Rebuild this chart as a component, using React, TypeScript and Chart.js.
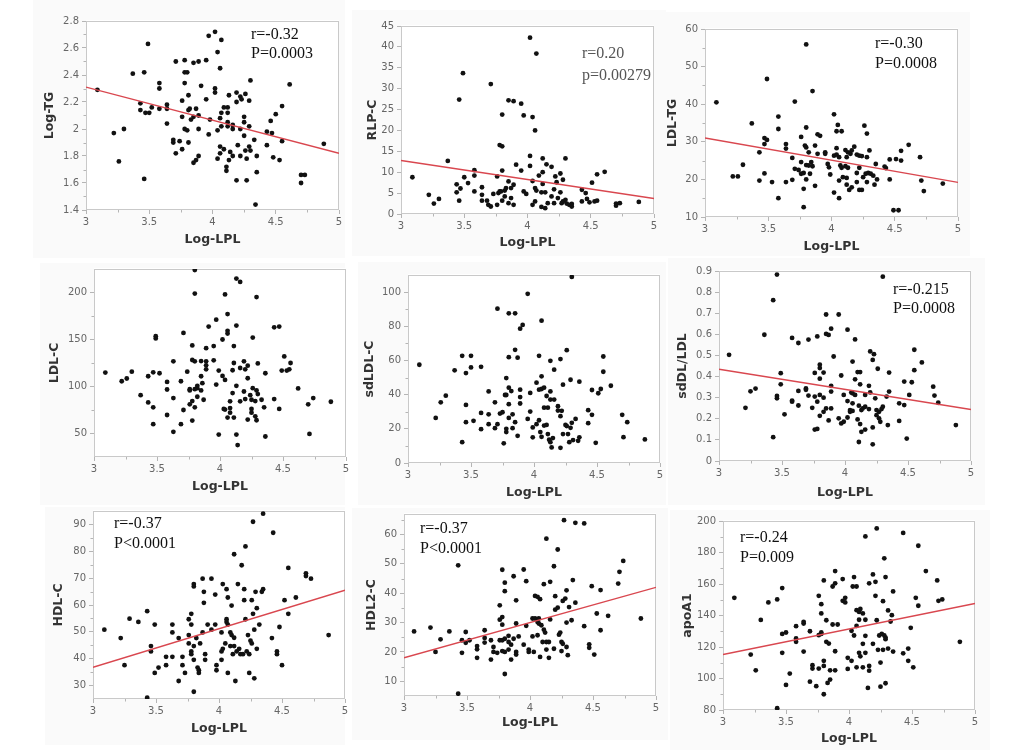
import React, { useEffect, useRef } from "react";
import { Chart, registerables } from "chart.js";

Chart.register(...registerables);

type Pt = [number, number];

// ---------------- data ----------------
const xTicks = [3, 3.5, 4, 4.5, 5];
const xMinor = [3.25, 3.75, 4.25, 4.75];
const xTitle = "Log-LPL";

const logTG: Pt[] = [
  [3.09, 2.29], [3.22, 1.97], [3.26, 1.76], [3.3, 2.0], [3.37, 2.41], [3.43, 2.19], [3.43, 2.14], [3.46, 2.42],
  [3.46, 1.63], [3.47, 2.12], [3.49, 2.63], [3.5, 2.12], [3.52, 2.16], [3.58, 2.34], [3.58, 2.3], [3.58, 2.15],
  [3.64, 2.18], [3.64, 2.15], [3.64, 2.04], [3.69, 1.92], [3.69, 1.9], [3.71, 2.5], [3.71, 1.82], [3.74, 1.91],
  [3.76, 2.21], [3.76, 2.09], [3.76, 1.85], [3.78, 2.51], [3.78, 2.42], [3.78, 2.34], [3.78, 2.0], [3.8, 2.42],
  [3.8, 1.99], [3.81, 2.25], [3.81, 2.14], [3.81, 1.9], [3.82, 2.15], [3.83, 2.07], [3.85, 2.49], [3.85, 1.75],
  [3.85, 2.09], [3.87, 1.77], [3.87, 2.15], [3.89, 2.5], [3.89, 2.1], [3.89, 2.0], [3.89, 1.8], [3.91, 2.32],
  [3.95, 2.51], [3.95, 2.22], [3.97, 2.69], [3.97, 1.96], [3.98, 2.07], [4.02, 2.72], [4.02, 2.3], [4.02, 2.27],
  [4.04, 2.57], [4.04, 1.99], [4.04, 1.78], [4.06, 2.45], [4.06, 2.08], [4.06, 1.87], [4.06, 1.82], [4.07, 2.66],
  [4.07, 2.12], [4.07, 2.02], [4.09, 2.16], [4.09, 1.85], [4.11, 1.72], [4.11, 1.69], [4.12, 2.16], [4.12, 2.12],
  [4.12, 2.05], [4.12, 2.02], [4.13, 2.25], [4.13, 1.77], [4.14, 1.83], [4.16, 2.03], [4.16, 2.0], [4.16, 1.8],
  [4.19, 2.27], [4.19, 1.62], [4.19, 2.2], [4.2, 1.88], [4.22, 2.24], [4.22, 2.0], [4.22, 1.8], [4.23, 2.22],
  [4.25, 2.09], [4.25, 2.05], [4.25, 1.95], [4.26, 2.26], [4.26, 1.84], [4.27, 1.78], [4.27, 1.62], [4.29, 2.21],
  [4.29, 2.02], [4.29, 1.87], [4.3, 2.36], [4.3, 1.84], [4.33, 1.92], [4.34, 1.44], [4.35, 1.8], [4.35, 1.68],
  [4.43, 1.98], [4.43, 1.88], [4.46, 2.06], [4.47, 1.97], [4.48, 1.79], [4.5, 2.11], [4.53, 1.77], [4.55, 2.17],
  [4.55, 1.91], [4.61, 2.33], [4.7, 1.66], [4.7, 1.6], [4.73, 1.66], [4.88, 1.89],
];
const logTGFit: Pt = [2.31, 1.82];
const logTGTicks = [1.4, 1.6, 1.8, 2, 2.2, 2.4, 2.6, 2.8];
const logTGMinor = [1.5, 1.7, 1.9, 2.1, 2.3, 2.5, 2.7];

const rlpC: Pt[] = [
  [3.09, 8.8], [3.22, 4.6], [3.26, 2.5], [3.3, 3.6], [3.37, 12.7], [3.44, 7.1], [3.44, 5.2], [3.46, 27.4],
  [3.47, 6.1], [3.46, 3.2], [3.49, 33.7], [3.5, 8.8], [3.53, 7.4], [3.58, 10.5], [3.58, 9.2], [3.58, 5.4],
  [3.64, 6.4], [3.64, 4.6], [3.64, 3.2], [3.68, 3.2], [3.69, 2.2], [3.71, 1.8], [3.71, 31.1], [3.73, 4.8],
  [3.76, 2.2], [3.76, 9.0], [3.77, 5.0], [3.78, 16.5], [3.78, 5.4], [3.79, 5.4], [3.8, 16.2], [3.8, 23.8],
  [3.8, 10.4], [3.8, 3.2], [3.82, 4.2], [3.82, 5.6], [3.83, 6.2], [3.85, 27.2], [3.85, 7.8], [3.85, 2.6],
  [3.87, 3.8], [3.87, 6.2], [3.89, 27.0], [3.89, 7.0], [3.89, 2.2], [3.91, 11.8], [3.95, 26.4], [3.95, 10.4],
  [3.97, 23.6], [3.97, 5.4], [3.99, 4.8], [4.02, 42.2], [4.02, 13.9], [4.02, 11.5], [4.04, 23.2], [4.04, 7.9],
  [4.04, 2.2], [4.06, 20.0], [4.06, 6.2], [4.06, 3.0], [4.07, 38.4], [4.07, 5.6], [4.09, 9.2], [4.11, 5.2],
  [4.11, 1.7], [4.12, 13.3], [4.12, 10.0], [4.12, 7.2], [4.14, 1.4], [4.14, 5.2], [4.15, 11.9], [4.16, 2.6],
  [4.19, 11.3], [4.19, 4.2], [4.21, 5.9], [4.21, 2.6], [4.22, 9.0], [4.23, 7.6], [4.24, 3.8], [4.26, 5.2],
  [4.26, 9.7], [4.27, 2.6], [4.28, 8.2], [4.28, 3.0], [4.3, 13.3], [4.3, 3.4], [4.31, 2.5], [4.33, 2.2],
  [4.35, 2.4], [4.35, 1.8], [4.43, 5.8], [4.43, 3.0], [4.46, 5.0], [4.47, 3.6], [4.49, 2.8], [4.51, 7.5],
  [4.53, 3.0], [4.55, 9.5], [4.55, 3.2], [4.61, 10.1], [4.7, 2.5], [4.7, 2.0], [4.73, 2.6], [4.88, 2.9],
];
const rlpCFit: Pt = [12.8, 3.7];
const rlpCTicks = [0, 5, 10, 15, 20, 25, 30, 35, 40, 45];
const rlpCMinor: number[] = [];

const ldlTG: Pt[] = [
  [3.09, 40.5], [3.22, 20.8], [3.26, 20.8], [3.3, 23.9], [3.37, 34.9], [3.43, 27.2], [3.43, 19.7], [3.47, 31.0],
  [3.47, 29.4], [3.47, 21.6], [3.49, 46.7], [3.49, 30.5], [3.53, 19.3], [3.58, 36.7], [3.58, 33.4], [3.58, 15.0],
  [3.64, 29.4], [3.64, 28.2], [3.64, 19.3], [3.69, 25.7], [3.69, 19.9], [3.71, 40.7], [3.71, 22.8], [3.74, 22.5],
  [3.76, 31.3], [3.76, 24.6], [3.76, 21.5], [3.78, 12.6], [3.78, 21.7], [3.78, 17.5], [3.79, 29.0], [3.8, 55.9],
  [3.8, 33.8], [3.8, 28.5], [3.8, 23.8], [3.8, 20.0], [3.82, 27.2], [3.82, 23.7], [3.83, 21.5], [3.84, 24.6],
  [3.85, 43.5], [3.85, 23.5], [3.87, 29.0], [3.87, 18.3], [3.89, 32.0], [3.89, 26.8], [3.91, 31.6], [3.95, 27.2],
  [3.95, 26.8], [3.97, 24.1], [3.98, 23.2], [3.99, 21.3], [4.02, 37.3], [4.02, 26.3], [4.02, 16.5], [4.04, 32.8],
  [4.04, 28.3], [4.04, 26.6], [4.05, 34.5], [4.06, 15.0], [4.06, 19.7], [4.06, 25.9], [4.08, 32.8], [4.07, 23.7],
  [4.08, 23.1], [4.09, 20.6], [4.11, 27.8], [4.11, 23.5], [4.12, 25.9], [4.12, 20.4], [4.12, 18.6], [4.13, 23.1],
  [4.13, 27.2], [4.14, 17.2], [4.15, 26.8], [4.16, 17.9], [4.16, 27.7], [4.18, 28.7], [4.2, 26.6], [4.2, 21.7],
  [4.2, 19.3], [4.22, 17.2], [4.22, 26.3], [4.22, 23.1], [4.24, 17.2], [4.24, 26.2], [4.25, 20.6], [4.26, 34.3],
  [4.27, 21.5], [4.28, 19.3], [4.28, 32.2], [4.28, 25.9], [4.29, 21.7], [4.3, 27.7], [4.31, 21.5], [4.33, 21.0],
  [4.34, 18.6], [4.35, 24.1], [4.36, 20.0], [4.42, 23.4], [4.43, 23.0], [4.46, 20.0], [4.46, 25.3], [4.49, 11.8],
  [4.51, 25.4], [4.53, 11.8], [4.55, 27.6], [4.55, 25.0], [4.61, 29.2], [4.7, 25.9], [4.71, 19.7], [4.73, 16.9],
  [4.88, 18.9],
];
const ldlTGFit: Pt = [31.0, 19.2];
const ldlTGTicks = [10, 20, 30, 40, 50, 60];
const ldlTGMinor = [15, 25, 35, 45, 55];

const ldlC: Pt[] = [
  [3.09, 114.8], [3.22, 105.6], [3.26, 108.5], [3.3, 115.8], [3.37, 90.8], [3.43, 110.9], [3.43, 83.1], [3.47, 115.1],
  [3.47, 77.8], [3.47, 59.9], [3.49, 153.5], [3.49, 151.1], [3.52, 114.1], [3.58, 104.9], [3.58, 96.8], [3.58, 69.7],
  [3.63, 126.8], [3.63, 87.7], [3.63, 51.8], [3.69, 105.6], [3.69, 59.9], [3.71, 157.0], [3.71, 75.0], [3.74, 115.8],
  [3.76, 97.2], [3.76, 95.8], [3.76, 81.0], [3.78, 143.7], [3.78, 128.2], [3.78, 84.5], [3.78, 63.7], [3.8, 223.9],
  [3.8, 198.9], [3.8, 126.8], [3.8, 97.2], [3.8, 77.8], [3.82, 98.2], [3.82, 100.7], [3.82, 89.1], [3.85, 127.1],
  [3.85, 110.9], [3.85, 95.8], [3.86, 103.5], [3.87, 85.9], [3.89, 140.8], [3.89, 126.8], [3.89, 122.5], [3.89, 118.3],
  [3.91, 163.7], [3.95, 143.0], [3.95, 127.8], [3.97, 171.1], [3.97, 102.1], [3.99, 116.9], [3.99, 48.9], [4.02, 150.0],
  [4.02, 111.3], [4.03, 76.1], [4.04, 197.9], [4.04, 107.0], [4.04, 75.4], [4.06, 177.1], [4.06, 159.2], [4.06, 156.3],
  [4.06, 66.9], [4.08, 84.2], [4.08, 77.1], [4.08, 72.2], [4.1, 117.3], [4.1, 93.0], [4.11, 143.0], [4.11, 66.9],
  [4.11, 125.0], [4.13, 214.8], [4.13, 164.8], [4.13, 100.7], [4.13, 48.9], [4.14, 37.7], [4.16, 211.3], [4.16, 119.7],
  [4.16, 84.2], [4.19, 126.8], [4.19, 94.7], [4.2, 118.3], [4.2, 86.6], [4.22, 122.2], [4.22, 108.8], [4.22, 64.8],
  [4.24, 90.8], [4.25, 76.1], [4.25, 72.2], [4.25, 85.9], [4.26, 152.1], [4.26, 98.2], [4.28, 84.5], [4.28, 68.3],
  [4.29, 195.1], [4.29, 95.8], [4.29, 64.1], [4.3, 124.6], [4.3, 91.9], [4.33, 85.9], [4.35, 77.8], [4.36, 114.1],
  [4.36, 46.8], [4.43, 86.6], [4.43, 163.0], [4.47, 163.7], [4.47, 76.1], [4.49, 116.9], [4.51, 132.0], [4.53, 116.9],
  [4.55, 118.3], [4.56, 125.0], [4.62, 97.9], [4.7, 81.0], [4.71, 49.6], [4.74, 87.7], [4.88, 83.8],
];
const ldlCTicks = [50, 100, 150, 200];
const ldlCMinor = [75, 125, 175];

const sdLDLC: Pt[] = [
  [3.09, 57.5], [3.22, 26.4], [3.26, 35.5], [3.3, 39.4], [3.37, 54.2], [3.43, 62.7], [3.43, 12.2], [3.46, 52.6],
  [3.46, 34.0], [3.46, 23.9], [3.5, 62.7], [3.5, 55.9], [3.52, 24.7], [3.58, 56.3], [3.58, 29.3], [3.58, 19.8],
  [3.64, 41.9], [3.64, 28.5], [3.64, 22.7], [3.69, 35.5], [3.69, 20.4], [3.71, 90.3], [3.71, 22.7], [3.73, 28.9],
  [3.75, 29.7], [3.76, 11.5], [3.77, 39.8], [3.78, 49.7], [3.78, 39.8], [3.78, 20.0], [3.78, 18.1], [3.8, 87.6],
  [3.8, 61.9], [3.8, 44.1], [3.8, 34.4], [3.8, 26.4], [3.82, 42.1], [3.83, 28.5], [3.83, 20.4], [3.85, 87.6],
  [3.85, 66.2], [3.85, 23.9], [3.87, 61.6], [3.87, 15.9], [3.89, 78.6], [3.89, 42.9], [3.89, 38.6], [3.89, 34.8],
  [3.91, 80.8], [3.95, 99.0], [3.95, 25.8], [3.97, 41.0], [3.97, 30.1], [3.99, 20.8], [3.99, 15.0], [4.02, 47.0],
  [4.02, 22.7], [4.04, 62.7], [4.04, 42.9], [4.04, 25.0], [4.05, 18.1], [4.06, 50.7], [4.06, 83.3], [4.06, 43.3],
  [4.06, 15.3], [4.08, 44.1], [4.08, 32.4], [4.08, 21.9], [4.1, 39.2], [4.1, 22.3], [4.11, 32.4], [4.11, 16.9],
  [4.12, 13.6], [4.13, 59.8], [4.13, 41.9], [4.13, 12.2], [4.13, 37.1], [4.14, 9.1], [4.15, 14.6], [4.16, 54.6],
  [4.16, 37.1], [4.19, 33.2], [4.19, 30.7], [4.21, 60.8], [4.21, 27.4], [4.21, 8.9], [4.22, 30.5], [4.23, 45.8],
  [4.23, 16.9], [4.25, 22.3], [4.26, 21.6], [4.26, 66.0], [4.27, 16.9], [4.28, 12.2], [4.29, 20.6], [4.29, 48.7],
  [4.3, 23.5], [4.3, 108.9], [4.31, 13.4], [4.33, 25.8], [4.35, 13.0], [4.36, 15.0], [4.36, 47.6], [4.43, 30.9],
  [4.43, 23.3], [4.46, 42.7], [4.46, 28.2], [4.49, 11.8], [4.51, 40.8], [4.53, 43.3], [4.55, 62.3], [4.55, 53.4],
  [4.61, 45.2], [4.7, 28.2], [4.71, 15.1], [4.74, 23.9], [4.88, 13.8],
];
const sdLDLCTicks = [0, 20, 40, 60, 80, 100];
const sdLDLCMinor = [10, 30, 50, 70, 90];

const sdRatio: Pt[] = [
  [3.08, 0.503], [3.21, 0.252], [3.25, 0.33], [3.29, 0.343], [3.36, 0.598], [3.43, 0.762], [3.43, 0.113], [3.46, 0.883],
  [3.46, 0.308], [3.46, 0.297], [3.49, 0.416], [3.49, 0.363], [3.52, 0.221], [3.58, 0.583], [3.58, 0.286], [3.58, 0.281],
  [3.63, 0.559], [3.63, 0.332], [3.63, 0.263], [3.69, 0.344], [3.69, 0.337], [3.71, 0.575], [3.71, 0.31], [3.74, 0.252],
  [3.76, 0.417], [3.76, 0.305], [3.76, 0.149], [3.78, 0.59], [3.78, 0.281], [3.78, 0.152], [3.8, 0.456], [3.8, 0.44],
  [3.8, 0.39], [3.8, 0.313], [3.8, 0.214], [3.83, 0.419], [3.83, 0.3], [3.83, 0.233], [3.85, 0.694], [3.85, 0.602],
  [3.85, 0.249], [3.87, 0.597], [3.87, 0.192], [3.89, 0.627], [3.89, 0.356], [3.89, 0.329], [3.89, 0.249], [3.91, 0.495],
  [3.95, 0.694], [3.95, 0.202], [3.97, 0.405], [3.97, 0.178], [3.99, 0.186], [3.99, 0.313], [4.02, 0.622], [4.02, 0.284],
  [4.02, 0.206], [4.04, 0.241], [4.04, 0.233], [4.05, 0.324], [4.06, 0.471], [4.06, 0.321], [4.06, 0.273], [4.06, 0.237],
  [4.08, 0.576], [4.08, 0.387], [4.08, 0.313], [4.1, 0.421], [4.1, 0.197], [4.11, 0.09], [4.11, 0.262], [4.12, 0.421],
  [4.12, 0.363], [4.12, 0.175], [4.13, 0.138], [4.13, 0.241], [4.14, 0.249], [4.16, 0.313], [4.16, 0.257], [4.16, 0.149],
  [4.19, 0.356], [4.19, 0.246], [4.2, 0.519], [4.2, 0.325], [4.22, 0.479], [4.22, 0.159], [4.22, 0.079], [4.23, 0.506],
  [4.24, 0.297], [4.25, 0.241], [4.25, 0.217], [4.26, 0.437], [4.27, 0.202], [4.27, 0.233], [4.28, 0.186], [4.29, 0.246],
  [4.3, 0.257], [4.3, 0.873], [4.33, 0.305], [4.34, 0.17], [4.35, 0.329], [4.35, 0.419], [4.43, 0.273], [4.43, 0.19],
  [4.47, 0.376], [4.47, 0.265], [4.49, 0.106], [4.51, 0.313], [4.53, 0.373], [4.55, 0.527], [4.55, 0.43], [4.61, 0.467],
  [4.7, 0.352], [4.71, 0.31], [4.74, 0.276], [4.88, 0.17],
];
const sdRatioFit: Pt = [0.435, 0.244];
const sdRatioTicks = [0, 0.1, 0.2, 0.3, 0.4, 0.5, 0.6, 0.7, 0.8, 0.9];
const sdRatioMinor: number[] = [];

const hdlC: Pt[] = [
  [3.09, 50.8], [3.22, 47.7], [3.25, 37.6], [3.29, 54.9], [3.36, 53.7], [3.43, 57.7], [3.43, 25.5], [3.46, 44.7],
  [3.46, 42.7], [3.49, 52.7], [3.49, 34.7], [3.52, 36.7], [3.58, 40.7], [3.58, 37.6], [3.63, 52.7], [3.63, 49.8],
  [3.63, 40.7], [3.68, 47.7], [3.68, 31.7], [3.71, 40.7], [3.71, 37.6], [3.73, 34.7], [3.76, 54.7], [3.76, 48.8],
  [3.76, 45.7], [3.78, 56.7], [3.78, 52.7], [3.78, 42.7], [3.78, 41.7], [3.8, 67.8], [3.8, 66.9], [3.8, 44.7],
  [3.8, 39.6], [3.8, 27.7], [3.82, 47.7], [3.83, 36.7], [3.84, 35.7], [3.84, 34.7], [3.85, 45.7], [3.87, 49.8],
  [3.87, 69.8], [3.88, 64.9], [3.88, 60.8], [3.89, 41.7], [3.89, 39.6], [3.91, 52.7], [3.94, 69.8], [3.94, 50.8],
  [3.97, 63.9], [3.97, 52.7], [3.98, 37.6], [3.98, 35.7], [4.02, 49.8], [4.02, 42.7], [4.02, 39.6], [4.03, 67.8],
  [4.03, 43.7], [4.05, 45.7], [4.06, 54.7], [4.06, 53.7], [4.06, 65.9], [4.07, 62.8], [4.07, 52.7], [4.07, 34.7],
  [4.09, 49.8], [4.09, 44.7], [4.1, 48.8], [4.1, 59.8], [4.11, 41.7], [4.12, 47.8], [4.12, 44.7], [4.12, 78.9],
  [4.13, 31.7], [4.14, 42.7], [4.15, 67.8], [4.16, 43.7], [4.17, 41.7], [4.18, 74.8], [4.19, 41.7], [4.2, 65.9],
  [4.2, 61.8], [4.21, 81.8], [4.21, 54.7], [4.22, 42.7], [4.23, 48.8], [4.24, 41.7], [4.24, 34.7], [4.25, 46.7],
  [4.26, 45.7], [4.26, 61.8], [4.27, 91.0], [4.27, 56.7], [4.28, 32.7], [4.28, 50.8], [4.29, 64.9], [4.3, 58.8],
  [4.3, 43.7], [4.32, 52.7], [4.34, 64.9], [4.35, 65.9], [4.35, 94.0], [4.42, 47.7], [4.43, 86.9], [4.46, 42.7],
  [4.46, 41.7], [4.48, 51.8], [4.5, 37.6], [4.52, 61.8], [4.55, 73.8], [4.55, 56.7], [4.61, 62.8], [4.69, 71.8],
  [4.69, 70.8], [4.73, 69.8], [4.87, 48.8],
];
const hdlCFit: Pt = [36.8, 65.5];
const hdlCTicks = [30, 40, 50, 60, 70, 80, 90];
const hdlCMinor = [35, 45, 55, 65, 75, 85];

const hdl2C: Pt[] = [
  [3.08, 27.0], [3.21, 28.3], [3.25, 20.0], [3.29, 24.3], [3.36, 27.0], [3.43, 49.5], [3.43, 5.8], [3.46, 24.0],
  [3.46, 19.7], [3.49, 26.8], [3.49, 23.1], [3.52, 24.0], [3.58, 22.0], [3.58, 20.9], [3.58, 18.0], [3.64, 27.4],
  [3.64, 24.8], [3.64, 23.2], [3.69, 24.0], [3.69, 17.4], [3.71, 21.7], [3.71, 20.0], [3.74, 19.7], [3.76, 35.9],
  [3.76, 31.0], [3.76, 24.0], [3.78, 48.0], [3.78, 31.9], [3.78, 29.3], [3.78, 24.0], [3.78, 20.3], [3.8, 43.6],
  [3.8, 40.7], [3.8, 24.5], [3.8, 20.0], [3.8, 12.5], [3.83, 25.5], [3.83, 23.4], [3.83, 20.8], [3.85, 22.5],
  [3.85, 17.4], [3.87, 45.8], [3.87, 24.5], [3.89, 37.6], [3.89, 29.7], [3.89, 20.0], [3.89, 19.1], [3.91, 25.3],
  [3.95, 48.1], [3.95, 22.5], [3.97, 44.1], [3.97, 28.9], [3.99, 20.8], [3.99, 20.0], [4.02, 31.4], [4.02, 25.3],
  [4.03, 20.0], [4.04, 39.1], [4.04, 31.4], [4.06, 38.8], [4.06, 30.2], [4.06, 25.7], [4.07, 31.4], [4.07, 29.7],
  [4.08, 38.0], [4.08, 18.3], [4.09, 29.1], [4.1, 23.4], [4.11, 43.1], [4.11, 27.6], [4.12, 26.6], [4.13, 58.6],
  [4.13, 23.4], [4.13, 20.8], [4.15, 18.0], [4.15, 23.4], [4.16, 43.9], [4.16, 31.1], [4.19, 49.2], [4.19, 21.1],
  [4.2, 39.0], [4.2, 34.4], [4.22, 54.9], [4.22, 35.1], [4.23, 25.9], [4.24, 26.6], [4.25, 20.3], [4.25, 23.4],
  [4.26, 37.4], [4.26, 22.8], [4.27, 64.9], [4.28, 38.2], [4.29, 41.0], [4.29, 30.0], [4.29, 21.7], [4.3, 18.9],
  [4.31, 35.3], [4.33, 30.8], [4.34, 44.5], [4.36, 36.8], [4.36, 64.0], [4.43, 28.8], [4.43, 63.8], [4.47, 22.6],
  [4.47, 21.4], [4.49, 42.4], [4.51, 19.1], [4.53, 33.1], [4.56, 41.1], [4.56, 27.4], [4.62, 32.3], [4.7, 43.3],
  [4.71, 47.3], [4.74, 51.0], [4.88, 31.4],
];
const hdl2CFit: Pt = [18.0, 42.0];
const hdl2CTicks = [10, 20, 30, 40, 50, 60];
const hdl2CMinor = [15, 25, 35, 45, 55, 65];

const apoA1: Pt[] = [
  [3.09, 151.2], [3.22, 115.2], [3.26, 105.2], [3.3, 137.2], [3.36, 148.3], [3.43, 150.2], [3.43, 81.1], [3.47, 157.4],
  [3.47, 128.3], [3.47, 116.3], [3.5, 129.2], [3.5, 95.9], [3.53, 103.1], [3.58, 133.2], [3.58, 125.4], [3.58, 123.3],
  [3.64, 136.0], [3.64, 134.9], [3.64, 117.1], [3.69, 130.0], [3.69, 98.0], [3.71, 108.4], [3.71, 106.3], [3.74, 95.1],
  [3.76, 152.5], [3.76, 127.5], [3.76, 106.3], [3.78, 147.2], [3.78, 141.3], [3.78, 129.2], [3.78, 128.3], [3.8, 162.3],
  [3.8, 111.2], [3.8, 108.0], [3.8, 90.0], [3.82, 137.0], [3.82, 123.3], [3.83, 97.2], [3.84, 122.2], [3.85, 99.3],
  [3.85, 105.2], [3.87, 158.4], [3.87, 134.3], [3.89, 160.4], [3.89, 168.2], [3.89, 117.3], [3.89, 105.2], [3.91, 134.3],
  [3.95, 163.1], [3.95, 149.3], [3.97, 151.2], [3.97, 148.3], [3.99, 113.1], [3.99, 106.1], [4.02, 130.3], [4.02, 111.2],
  [4.03, 158.4], [4.04, 164.4], [4.04, 127.3], [4.06, 158.4], [4.06, 143.4], [4.06, 133.4], [4.06, 107.1], [4.08, 142.3],
  [4.08, 137.3], [4.08, 116.3], [4.09, 144.2], [4.09, 114.1], [4.11, 141.3], [4.11, 122.0], [4.11, 107.1], [4.13, 190.2],
  [4.13, 137.3], [4.13, 127.1], [4.13, 116.3], [4.15, 94.0], [4.16, 160.4], [4.16, 108.0], [4.16, 105.0], [4.19, 166.1],
  [4.19, 122.0], [4.21, 161.4], [4.21, 152.5], [4.22, 195.3], [4.22, 137.0], [4.23, 118.2], [4.24, 127.3], [4.25, 110.1],
  [4.25, 94.8], [4.26, 128.3], [4.27, 149.1], [4.27, 118.2], [4.28, 176.3], [4.28, 127.3], [4.29, 164.4], [4.29, 126.0],
  [4.29, 97.0], [4.29, 125.0], [4.31, 143.2], [4.31, 119.0], [4.33, 136.2], [4.34, 140.2], [4.35, 155.3], [4.35, 117.1],
  [4.43, 192.4], [4.43, 116.0], [4.47, 119.0], [4.47, 111.2], [4.49, 132.2], [4.51, 107.1], [4.53, 151.2], [4.55, 184.3],
  [4.55, 146.2], [4.61, 168.2], [4.7, 162.3], [4.71, 149.3], [4.74, 150.2], [4.88, 123.3],
];
const apoA1Fit: Pt = [115.2, 147.6];
const apoA1Ticks = [80, 100, 120, 140, 160, 180, 200];
const apoA1Minor = [90, 110, 130, 150, 170, 190];

// ---------------- layout ----------------
interface PanelDef {
  yTitle: string;
  points: Pt[];
  fit?: Pt;
  yMin: number;
  yMax: number;
  yTicks: number[];
  yMinor: number[];
  note?: string[];
  noteColor?: string;
  l: number; t: number; r: number; b: number;
  ytx: number; xty: number;
  nx?: number; ny?: number; ngap?: number;
  bg: [number, number, number, number];
}

const panels: PanelDef[] = [
  { yTitle: "Log-TG", points: logTG, fit: logTGFit, yMin: 1.4, yMax: 2.8, yTicks: logTGTicks, yMinor: logTGMinor,
    note: ["r=-0.32", "P=0.0003"], l: 86, t: 20, r: 339, b: 210, ytx: 50, xty: 240, nx: 251, ny: 34, ngap: 19, bg: [33, 0, 345, 258] },
  { yTitle: "RLP-C", points: rlpC, fit: rlpCFit, yMin: 0, yMax: 45, yTicks: rlpCTicks, yMinor: rlpCMinor,
    note: ["r=0.20", "p=0.00279"], noteColor: "#555", l: 401, t: 25, r: 654, b: 214, ytx: 373, xty: 243, nx: 582, ny: 53, ngap: 22, bg: [352, 10, 666, 256] },
  { yTitle: "LDL-TG", points: ldlTG, fit: ldlTGFit, yMin: 10, yMax: 60, yTicks: ldlTGTicks, yMinor: ldlTGMinor,
    note: ["r=-0.30", "P=0.0008"], l: 705, t: 28, r: 958, b: 217, ytx: 673, xty: 247, nx: 875, ny: 43, ngap: 20, bg: [666, 12, 970, 256] },
  { yTitle: "LDL-C", points: ldlC, yMin: 25, yMax: 225, yTicks: ldlCTicks, yMinor: ldlCMinor,
    l: 94, t: 268, r: 346, b: 457, ytx: 55, xty: 487, bg: [40, 263, 345, 505] },
  { yTitle: "sdLDL-C", points: sdLDLC, yMin: 0, yMax: 110, yTicks: sdLDLCTicks, yMinor: sdLDLCMinor,
    l: 408, t: 274, r: 660, b: 463, ytx: 370, xty: 493, bg: [358, 262, 666, 505] },
  { yTitle: "sdDL/LDL", points: sdRatio, fit: sdRatioFit, yMin: 0, yMax: 0.9, yTicks: sdRatioTicks, yMinor: sdRatioMinor,
    note: ["r=-0.215", "P=0.0008"], l: 719, t: 270, r: 971, b: 461, ytx: 683, xty: 493, nx: 893, ny: 289, ngap: 19, bg: [668, 258, 985, 505] },
  { yTitle: "HDL-C", points: hdlC, fit: hdlCFit, yMin: 25, yMax: 95, yTicks: hdlCTicks, yMinor: hdlCMinor,
    note: ["r=-0.37", "P<0.0001"], l: 93, t: 510, r: 345, b: 699, ytx: 59, xty: 729, nx: 114, ny: 523, ngap: 20, bg: [45, 507, 345, 745] },
  { yTitle: "HDL2-C", points: hdl2C, fit: hdl2CFit, yMin: 5, yMax: 67, yTicks: hdl2CTicks, yMinor: hdl2CMinor,
    note: ["r=-0.37", "P<0.0001"], l: 404, t: 513, r: 656, b: 696, ytx: 372, xty: 723, nx: 420, ny: 528, ngap: 20, bg: [352, 508, 668, 740] },
  { yTitle: "apoA1", points: apoA1, fit: apoA1Fit, yMin: 80, yMax: 200, yTicks: apoA1Ticks, yMinor: apoA1Minor,
    note: ["r=-0.24", "P=0.009"], l: 723, t: 520, r: 975, b: 710, ytx: 688, xty: 739, nx: 740, ny: 537, ngap: 20, bg: [670, 510, 990, 750] },
];

const YW = 60;
const XH = 50;
const PT = 8;
const PR = 8;
const TITLE_SIZE = 12.5;
const TITLE_LH = TITLE_SIZE * 1.2;
const TICK_FONT = { family: "'DejaVu Sans', Verdana, sans-serif", size: 10 };
const TITLE_FONT = { family: "'DejaVu Sans', Verdana, sans-serif", size: TITLE_SIZE, weight: "bold" as const };

const fmt = (v: any) => String(parseFloat(Number(v).toFixed(3)));

const boxPlugin = {
  id: "boxMinor",
  beforeDatasetsDraw(chart: any, _args: any, opts: any) {
    const { ctx, chartArea, scales } = chart;
    const { left, top, right, bottom } = chartArea;
    ctx.save();
    ctx.strokeStyle = "#c9c9c9";
    ctx.lineWidth = 1;
    ctx.strokeRect(Math.round(left) + 0.5, Math.round(top) + 0.5, Math.round(right - left) - 1, Math.round(bottom - top) - 1);
    ctx.strokeStyle = "#b5b5b5";
    for (const v of opts.xMinor || []) {
      const px = Math.round(scales.x.getPixelForValue(v)) + 0.5;
      ctx.beginPath();
      ctx.moveTo(px, bottom);
      ctx.lineTo(px, bottom + 2.5);
      ctx.stroke();
    }
    for (const v of opts.yMinor || []) {
      const py = Math.round(scales.y.getPixelForValue(v)) + 0.5;
      ctx.beginPath();
      ctx.moveTo(left, py);
      ctx.lineTo(left - 2.5, py);
      ctx.stroke();
    }
    ctx.restore();
  },
};

function Panel({ p }: { p: PanelDef }) {
  const ref = useRef<HTMLCanvasElement>(null);
  const cl = p.l - YW;
  const ct = p.t - PT;
  const cw = p.r - p.l + YW + PR;
  const ch = p.b - p.t + PT + XH;

  useEffect(() => {
    const datasets: any[] = [
      {
        type: "scatter",
        data: p.points.map(([x, y]) => ({ x, y })),
        pointRadius: 2.4,
        pointBackgroundColor: "#111",
        pointBorderWidth: 0,
        pointBorderColor: "#111",
        order: 2,
      },
    ];
    if (p.fit) {
      datasets.push({
        type: "line",
        data: [
          { x: 3, y: p.fit[0] },
          { x: 5, y: p.fit[1] },
        ],
        borderColor: "#d9474f",
        borderWidth: 1.4,
        pointRadius: 0,
        fill: false,
        order: 1,
      });
    }
    const chart = new Chart(ref.current as HTMLCanvasElement, {
      type: "scatter",
      data: { datasets },
      options: {
        animation: false,
        responsive: true,
        maintainAspectRatio: false,
        events: [],
        layout: { padding: { left: 0, top: PT, right: PR, bottom: 0 } },
        plugins: {
          legend: { display: false },
          tooltip: { enabled: false },
          boxMinor: { xMinor, yMinor: p.yMinor },
        } as any,
        scales: {
          x: {
            type: "linear",
            min: 3,
            max: 5,
            afterBuildTicks: (s: any) => {
              s.ticks = xTicks.map((value) => ({ value }));
            },
            afterFit: (s: any) => {
              s.height = XH;
            },
            ticks: { font: TICK_FONT, color: "#666", padding: 2, autoSkip: false, maxRotation: 0, callback: fmt },
            grid: { drawOnChartArea: false, tickLength: 4, color: "#b5b5b5" },
            border: { display: false },
            title: {
              display: true,
              text: xTitle,
              font: TITLE_FONT,
              color: "#333",
              padding: { top: 0, bottom: p.b + XH - p.xty - TITLE_LH / 2 },
            },
          },
          y: {
            type: "linear",
            min: p.yMin,
            max: p.yMax,
            afterBuildTicks: (s: any) => {
              s.ticks = p.yTicks.map((value) => ({ value }));
            },
            afterFit: (s: any) => {
              s.width = YW;
            },
            ticks: { font: TICK_FONT, color: "#666", padding: 3, autoSkip: false, callback: fmt },
            grid: { drawOnChartArea: false, tickLength: 4, color: "#b5b5b5" },
            border: { display: false },
            title: {
              display: true,
              text: p.yTitle,
              font: TITLE_FONT,
              color: "#333",
              padding: { top: p.ytx - cl - TITLE_LH / 2, bottom: 0 },
            },
          },
        },
      } as any,
      plugins: [boxPlugin],
    });
    return () => chart.destroy();
  }, [p]);

  return (
    <>
      <div
        style={{
          position: "absolute",
          left: p.bg[0],
          top: p.bg[1],
          width: p.bg[2] - p.bg[0],
          height: p.bg[3] - p.bg[1],
          background: "#fafafa",
        }}
      />
      <div
        style={{
          position: "absolute",
          left: p.l,
          top: p.t,
          width: p.r - p.l,
          height: p.b - p.t,
          background: "#ffffff",
        }}
      />
      <div style={{ position: "absolute", left: cl, top: ct, width: cw, height: ch }}>
        <canvas ref={ref} />
      </div>
      {p.note &&
        p.note.map((line, i) => (
          <div
            key={i}
            style={{
              position: "absolute",
              left: p.nx,
              top: (p.ny as number) + i * (p.ngap as number) - 10,
              height: 20,
              lineHeight: "20px",
              fontFamily: "'Liberation Serif', 'Times New Roman', serif",
              fontSize: 16,
              color: p.noteColor || "#111",
              whiteSpace: "nowrap",
            }}
          >
            {line}
          </div>
        ))}
    </>
  );
}

export default function App() {
  return (
    <div
      style={{
        position: "absolute",
        left: 0,
        top: 0,
        width: 1024,
        height: 755,
        background: "#ffffff",
        overflow: "hidden",
      }}
    >
      {panels.map((p, i) => (
        <Panel key={i} p={p} />
      ))}
    </div>
  );
}
